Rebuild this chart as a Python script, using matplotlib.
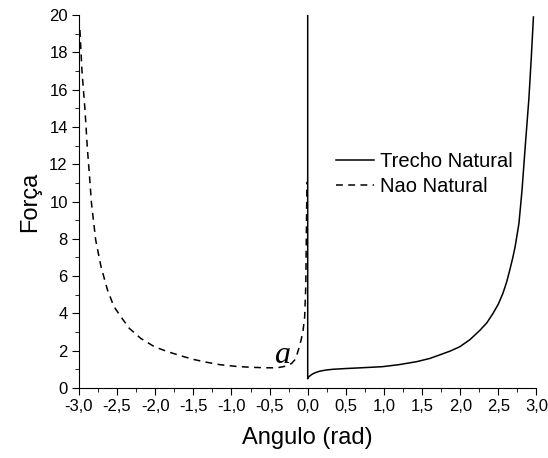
import numpy as np
import matplotlib.pyplot as plt
from matplotlib.ticker import MultipleLocator, FuncFormatter

plt.rcParams['font.family'] = ['Liberation Sans', 'DejaVu Sans']

# Trecho Natural (solid): vertical branch at 0 plus the right-hand curve
natural_x = [0.0, 0.0, 0.0, 0.02, 0.06, 0.1, 0.16, 0.24, 0.33, 0.5, 0.7, 0.98, 1.2,
             1.43, 1.6, 1.73, 1.87, 1.995, 2.13, 2.26, 2.35, 2.43, 2.5, 2.56,
             2.61, 2.65, 2.69, 2.72, 2.77, 2.81, 2.855, 2.9, 2.93, 2.96]
natural_y = [20.0, 0.5, 0.53, 0.62, 0.74, 0.82, 0.9, 0.96, 1.0, 1.04, 1.08, 1.14, 1.25,
             1.41, 1.58, 1.77, 1.98, 2.21, 2.6, 3.1, 3.5, 4.0, 4.5, 5.08,
             5.7, 6.33, 7.0, 7.58, 8.83, 10.6, 13.1, 15.5, 17.6, 19.9]

# Nao Natural (dashed)
nao_x = [-2.987, -2.96, -2.92, -2.89, -2.86, -2.835, -2.78, -2.71, -2.625, -2.54,
         -2.45, -2.34, -2.19, -2.01, -1.84, -1.66, -1.51, -1.33, -1.155, -0.95,
         -0.76, -0.55, -0.4, -0.27, -0.21, -0.17, -0.14, -0.11, -0.085, -0.06,
         -0.04, -0.025, -0.01]
nao_y = [19.2, 17.0, 14.9, 12.9, 11.3, 9.9, 7.94, 6.5, 5.25, 4.36,
         3.82, 3.2, 2.66, 2.21, 1.95, 1.72, 1.54, 1.38, 1.25, 1.16,
         1.11, 1.08, 1.08, 1.18, 1.32, 1.5, 1.8, 2.2, 2.6, 3.1,
         3.8, 5.5, 11.06]

fig = plt.figure(figsize=(5.48, 4.58), dpi=100)
ax = fig.add_axes([0.144, 0.153, 0.835, 0.814])

ax.plot(natural_x, natural_y, color='black', lw=1.1, label='Trecho Natural')
ax.plot(nao_x, nao_y, color='black', lw=1.1, ls=(0, (4.5, 3.5)), label='Nao Natural')

ax.set_xlim(-3, 3)
ax.set_ylim(0, 20)
ax.spines['top'].set_visible(False)
ax.spines['right'].set_visible(False)
ax.xaxis.set_major_locator(MultipleLocator(0.5))
ax.xaxis.set_minor_locator(MultipleLocator(0.25))
ax.yaxis.set_major_locator(MultipleLocator(2))
ax.yaxis.set_minor_locator(MultipleLocator(1))
ax.xaxis.set_major_formatter(FuncFormatter(lambda v, p: f'{v:.1f}'.replace('.', ',')))
ax.tick_params(which='major', direction='out', length=5, labelsize=12, pad=3)
ax.tick_params(which='minor', direction='out', length=3)

ax.set_xlabel('Angulo (rad)', fontsize=17, labelpad=9)
ax.set_ylabel('Força', fontsize=17, labelpad=6)

ax.text(-0.23, 1.35, 'a', family='Liberation Serif', style='italic', fontsize=23,
        ha='right', va='baseline')

ax.legend(loc='upper left', bbox_to_anchor=(0.562, 0.632), frameon=False, fontsize=14.5,
          handlelength=1.9, handletextpad=0.3, labelspacing=0.3,
          borderpad=0, borderaxespad=0)

fig.savefig('out.png')
